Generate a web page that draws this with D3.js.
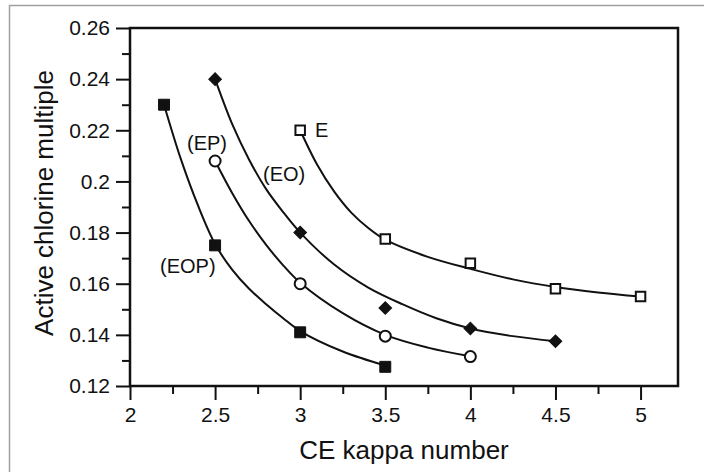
<!DOCTYPE html>
<html lang="en">
<head>
  <meta charset="UTF-8">
  <script src="https://d3js.org/d3.v7.min.js"></script>
  <style>
    body { margin: 0; background: white; }
    svg { display: block; font-family: "Liberation Sans", Arial, sans-serif; }
  </style>
</head>
<body>
  <div id="chart"></div>
  <script>
    // axis ticks
    const xMajor = [2, 2.5, 3, 3.5, 4, 4.5, 5];
    const xMinor = [2.25, 2.75, 3.25, 3.75, 4.25, 4.75];
    const yMajor = [0.12, 0.14, 0.16, 0.18, 0.2, 0.22, 0.24, 0.26];
    const yMinor = [0.13, 0.15, 0.17, 0.19, 0.21, 0.23, 0.25];

    // (EOP) filled squares
    const kappaEOP = [2.2, 2.5, 3, 3.5];
    const multEOP = [0.23, 0.175, 0.141, 0.1275];
    const fitKappaEOP = [2.2, 2.3, 2.4, 2.5, 2.6, 2.7, 2.8, 2.9, 3.0, 3.25, 3.5];
    const fitMultEOP = [0.23, 0.2085, 0.1905, 0.1755, 0.1655, 0.158, 0.152, 0.1465, 0.1415, 0.1335, 0.128];

    // (EP) open circles
    const kappaEP = [2.5, 3, 3.5, 4];
    const multEP = [0.208, 0.16, 0.1395, 0.1315];
    const fitKappaEP = [2.5, 2.6, 2.7, 2.8, 2.9, 3.0, 3.25, 3.5, 3.75, 4.0];
    const fitMultEP = [0.208, 0.1955, 0.1845, 0.1752, 0.1672, 0.1604, 0.1485, 0.14, 0.135, 0.1316];

    // (EO) filled diamonds
    const kappaEO = [2.5, 3, 3.5, 4, 4.5];
    const multEO = [0.24, 0.18, 0.1505, 0.1425, 0.1375];
    const fitKappaEO = [2.5, 2.6, 2.7, 2.8, 2.9, 3.0, 3.2, 3.4, 3.6, 3.8, 4.0, 4.25, 4.5];
    const fitMultEO = [0.24, 0.2225, 0.2085, 0.197, 0.188, 0.18, 0.1675, 0.1585, 0.152, 0.1465, 0.1425, 0.1395, 0.1375];

    // E open squares
    const kappaE = [3, 3.5, 4, 4.5, 5];
    const multE = [0.22, 0.1775, 0.168, 0.158, 0.155];
    const fitKappaE = [3.0, 3.1, 3.2, 3.3, 3.4, 3.5, 3.75, 4.0, 4.25, 4.5, 4.75, 5.0];
    const fitMultE = [0.22, 0.2065, 0.196, 0.1878, 0.1818, 0.1772, 0.1705, 0.1658, 0.1617, 0.1587, 0.1566, 0.155];

    const W = 704, H = 472;
    const svg = d3.select("#chart").append("svg")
      .attr("width", W).attr("height", H);

    // grey scan border
    svg.append("rect")
      .attr("x", 9.5).attr("y", 5.5)
      .attr("width", 800).attr("height", 600)
      .attr("fill", "white")
      .attr("stroke", "#a0a0a0").attr("stroke-width", 1.5);

    const x = d3.scaleLinear().domain([2, 5.22]).range([130, 678]);
    const y = d3.scaleLinear().domain([0.12, 0.26]).range([386, 28]);
    const fmt = d3.format("~g");

    function styleAxis(g) {
      g.select(".domain").remove();
      g.selectAll(".tick line").attr("stroke", "#111").attr("stroke-width", 2);
      g.selectAll(".tick text")
        .attr("fill", "#111")
        .style("font-family", '"Liberation Sans", Arial, sans-serif')
        .style("font-size", "21px");
    }

    // minor ticks
    svg.append("g").attr("transform", "translate(0,386)")
      .call(d3.axisBottom(x).tickValues(xMinor).tickSize(8).tickFormat(""))
      .call(styleAxis);
    svg.append("g").attr("transform", "translate(130,0)")
      .call(d3.axisLeft(y).tickValues(yMinor).tickSize(8).tickFormat(""))
      .call(styleAxis);

    // major ticks
    svg.append("g").attr("transform", "translate(0,386)")
      .call(d3.axisBottom(x).tickValues(xMajor).tickSize(14).tickPadding(7).tickFormat(fmt))
      .call(styleAxis);
    svg.append("g").attr("transform", "translate(130,0)")
      .call(d3.axisLeft(y).tickValues(yMajor).tickSize(14).tickPadding(6).tickFormat(fmt))
      .call(styleAxis);

    // plot frame
    svg.append("rect")
      .attr("x", x(2)).attr("y", y(0.26))
      .attr("width", x(5.22) - x(2)).attr("height", y(0.12) - y(0.26))
      .attr("fill", "none").attr("stroke", "#111").attr("stroke-width", 2.5);

    const line = d3.line()
      .x(d => x(d[0])).y(d => y(d[1]))
      .curve(d3.curveCatmullRom.alpha(0.5));

    const series = [
      { k: kappaEOP, v: multEOP, fk: fitKappaEOP, fv: fitMultEOP, shape: "square", filled: true, size: 120 },
      { k: kappaEP, v: multEP, fk: fitKappaEP, fv: fitMultEP, shape: "circle", filled: false, size: 95 },
      { k: kappaEO, v: multEO, fk: fitKappaEO, fv: fitMultEO, shape: "diamond", filled: true, size: 80 },
      { k: kappaE, v: multE, fk: fitKappaE, fv: fitMultE, shape: "square", filled: false, size: 90 }
    ];

    // fitted curves
    series.forEach(s => {
      svg.append("path")
        .datum(s.fk.map((k, i) => [k, s.fv[i]]))
        .attr("d", line)
        .attr("fill", "none")
        .attr("stroke", "#111")
        .attr("stroke-width", 2);
    });

    // markers
    series.forEach(s => {
      const sym = d3.symbol()
        .type(s.shape === "circle" ? d3.symbolCircle : d3.symbolSquare)
        .size(s.size);
      svg.append("g").selectAll("path")
        .data(s.k.map((k, i) => [k, s.v[i]]))
        .enter().append("path")
        .attr("d", sym)
        .attr("transform", d => `translate(${x(d[0])},${y(d[1])})` + (s.shape === "diamond" ? " rotate(45)" : ""))
        .attr("fill", s.filled ? "#111" : "white")
        .attr("stroke", "#111")
        .attr("stroke-width", s.filled ? 1 : 2);
    });

    // series labels
    const labels = [
      { t: "E", x: 315, y: 137 },
      { t: "(EO)", x: 263, y: 181 },
      { t: "(EP)", x: 187, y: 150 },
      { t: "(EOP)", x: 160, y: 273 }
    ];
    svg.selectAll(".lab").data(labels).enter().append("text")
      .attr("x", d => d.x).attr("y", d => d.y)
      .style("font-size", "20px").attr("fill", "#111")
      .text(d => d.t);

    // axis titles
    svg.append("text")
      .attr("x", 404).attr("y", 459)
      .attr("text-anchor", "middle")
      .style("font-size", "26px").attr("fill", "#111")
      .text("CE kappa number");

    svg.append("text")
      .attr("transform", "translate(53,203) rotate(-90)")
      .attr("text-anchor", "middle")
      .style("font-size", "26px").attr("fill", "#111")
      .text("Active chlorine multiple");
  </script>
</body>
</html>
